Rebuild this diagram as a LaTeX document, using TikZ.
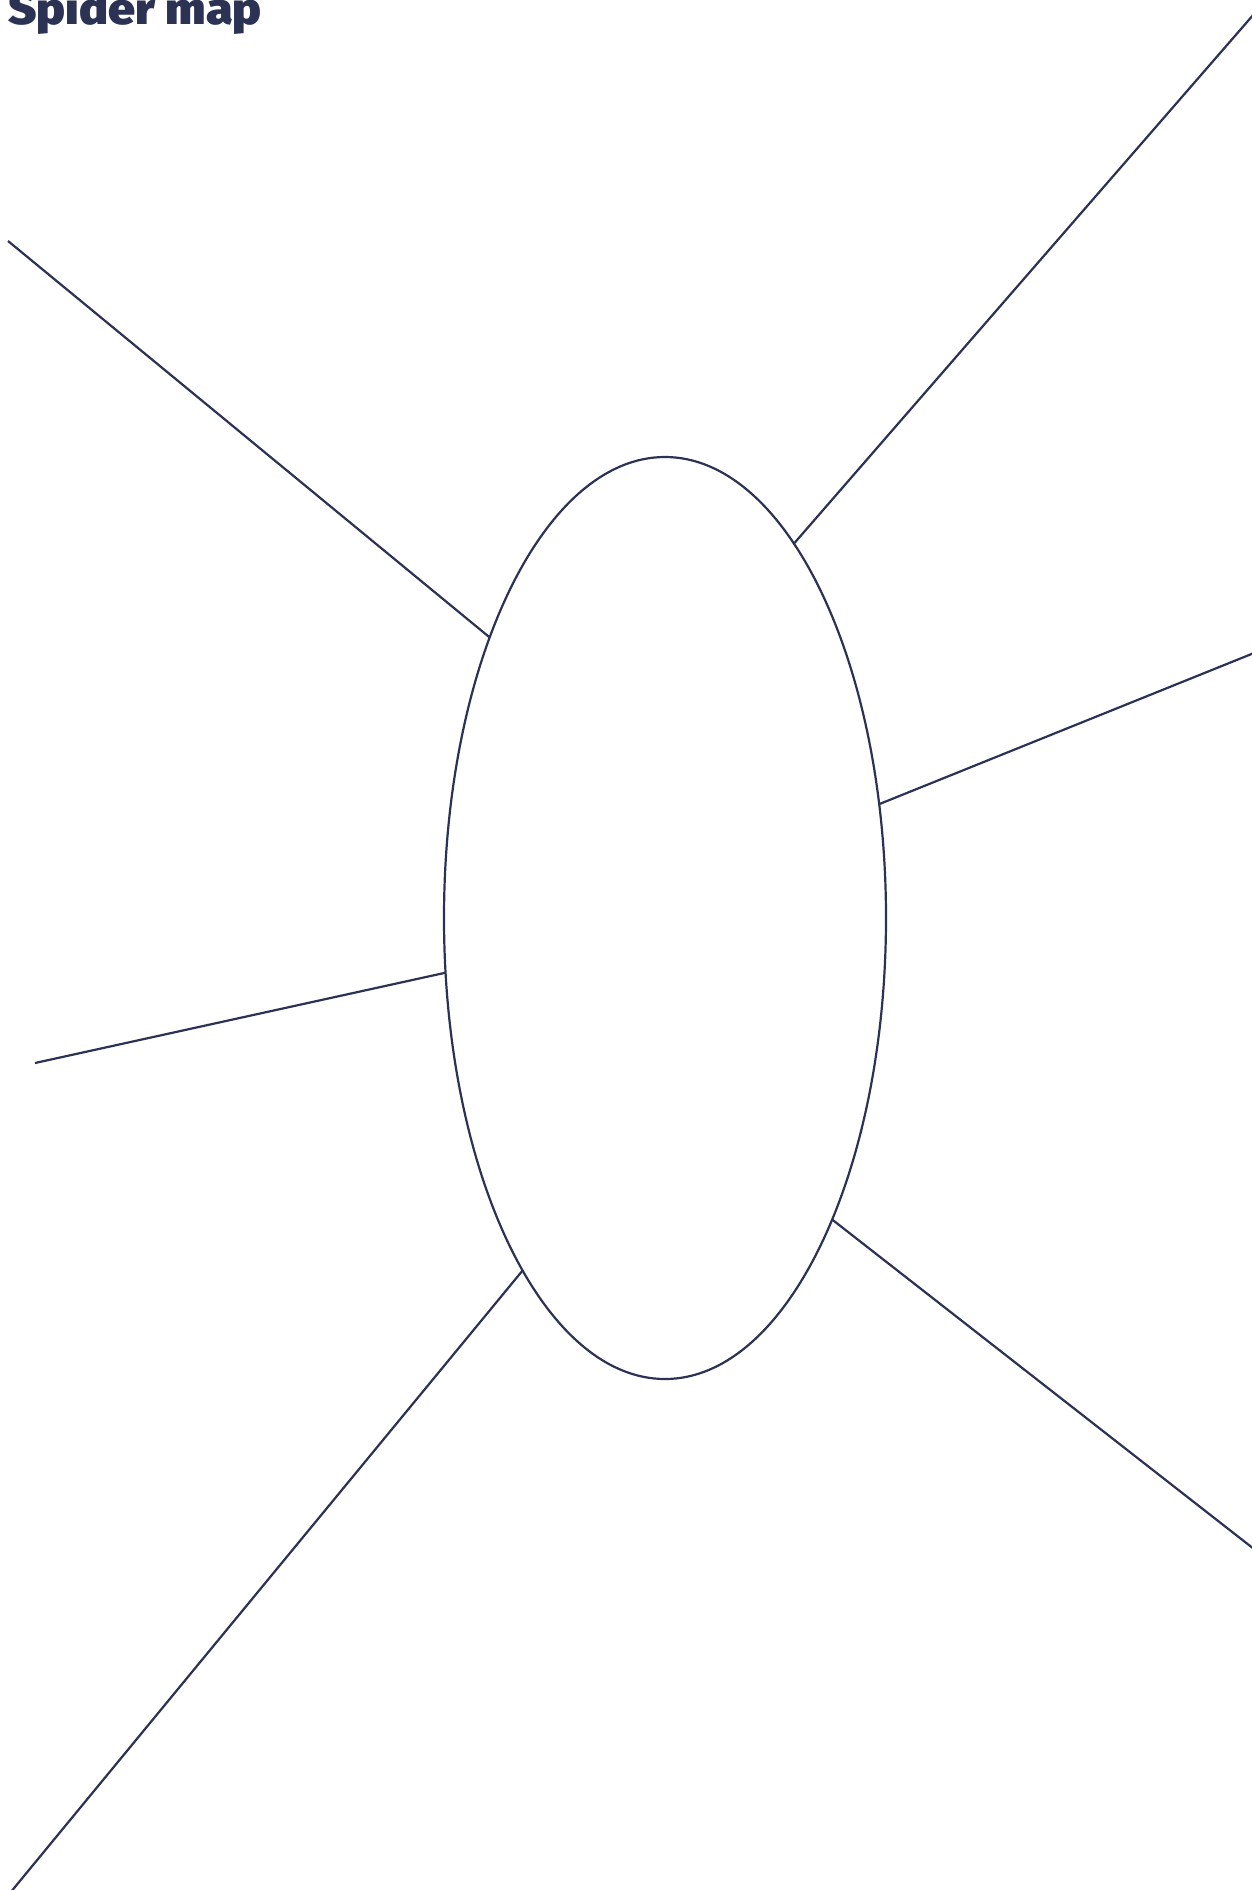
\documentclass[tikz,border=0pt]{standalone}
\usepackage{fontspec}
\setmainfont{Fira Sans}
\newfontfamily\titlefont[FakeStretch=1.1]{Fira Sans Black}
\usetikzlibrary{shapes.geometric}
\definecolor{navy}{HTML}{2B3253}
\tikzset{
  leg/.style={draw=navy, line width=2.2pt},
  body/.style={ellipse, draw=navy, line width=2.2pt, inner sep=0pt, outer sep=0pt,
    minimum width=442pt, minimum height=922pt}
}
\begin{document}
\begin{tikzpicture}[x=1pt,y=-1pt]
\useasboundingbox (0,0) rectangle (1252,1890);
\node[anchor=base west, inner sep=0pt, text=navy, font=\titlefont\fontsize{44}{44}\selectfont] (title) at (8,24) {Spider map};
\node[body] (c) at (665,918) {};
\coordinate (e1) at (1254,14);
\coordinate (e2) at (8,241);
\coordinate (e3) at (1254,653);
\coordinate (e4) at (35,1063);
\coordinate (e5) at (10,1893);
\coordinate (e6) at (1254,1549);
\draw[leg] (c.71.6) -- (e1);
\draw[leg] (c.122.5) -- (e2);
\draw[leg] (c.28.8) -- (e3);
\draw[leg] (c.194.3) -- (e4);
\draw[leg] (c.248.9) -- (e5);
\draw[leg] (c.299.7) -- (e6);
\end{tikzpicture}
\end{document}
